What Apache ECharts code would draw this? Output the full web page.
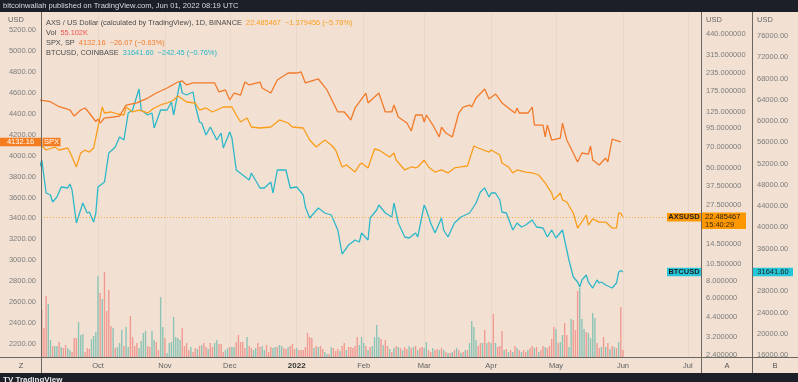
<!DOCTYPE html>
<html><head><meta charset="utf-8">
<script src="https://cdn.jsdelivr.net/npm/echarts@6/dist/echarts.min.js"></script>
<style>html,body{margin:0;padding:0;background:#1c1f28;}#c{width:798px;height:382px;}</style>
</head><body><div id="c"></div>
<script>
// ---------- DATA ----------
const spxDates = ['2021-09-04','2021-09-09','2021-09-13','2021-09-18','2021-09-20','2021-09-23','2021-09-25','2021-09-27','2021-09-30',
'2021-10-01','2021-10-02','2021-10-04','2021-10-08','2021-10-11','2021-10-14','2021-10-19','2021-10-24','2021-10-28',
'2021-11-02','2021-11-07','2021-11-09','2021-11-11','2021-11-14','2021-11-20','2021-11-24','2021-11-26','2021-11-29',
'2021-12-01','2021-12-03','2021-12-06','2021-12-08','2021-12-10','2021-12-15','2021-12-16','2021-12-20','2021-12-23','2021-12-28',
'2022-01-01','2022-01-03','2022-01-05','2022-01-11','2022-01-14','2022-01-15','2022-01-20','2022-01-23','2022-01-25','2022-01-26','2022-01-28',
'2022-02-02','2022-02-03','2022-02-08','2022-02-11','2022-02-14','2022-02-15','2022-02-17','2022-02-21','2022-02-23','2022-02-25','2022-02-28',
'2022-03-01','2022-03-02','2022-03-05','2022-03-08','2022-03-09','2022-03-11','2022-03-14','2022-03-17','2022-03-19','2022-03-22','2022-03-23','2022-03-25','2022-03-29','2022-03-31',
'2022-04-03','2022-04-06','2022-04-09','2022-04-12','2022-04-13','2022-04-14','2022-04-18','2022-04-20','2022-04-21','2022-04-25','2022-04-26','2022-04-27','2022-04-29',
'2022-05-03','2022-05-04','2022-05-06','2022-05-09','2022-05-11','2022-05-13','2022-05-16','2022-05-17','2022-05-18','2022-05-21','2022-05-24','2022-05-25','2022-05-27','2022-05-31'];
const spxValues = [4531,4515,4467,4436,4378,4436,4455,4407,4324,
4350,4311,4359,4369,4378,4483,4503,4550,4598,
4646,4703,4713,4675,4694,4694,4694,4608,4627,
4531,4598,4579,4703,4675,4703,4646,4598,4722,4789,
4789,4799,4694,4732,4655,4627,4417,4417,4369,4340,4455,
4598,4503,4598,4417,4417,4483,4369,4311,4235,4388,4388,
4321,4388,4292,4178,4273,4216,4178,4407,4464,4483,4464,4550,4636,4541,
4589,4503,4455,4407,4455,4407,4407,4464,4292,4292,4178,4292,4149,
4168,4311,4149,4025,3939,4025,4015,4092,3958,3910,3977,3939,4158,4132.16];

const axsDates = ['2021-09-05','2021-09-07','2021-09-11','2021-09-13','2021-09-17','2021-09-18','2021-09-19','2021-09-21','2021-09-23','2021-09-25','2021-09-27','2021-09-29',
'2021-10-01','2021-10-03','2021-10-04','2021-10-07','2021-10-10','2021-10-13','2021-10-14','2021-10-17','2021-10-20','2021-10-24','2021-10-27','2021-10-30',
'2021-11-02','2021-11-05','2021-11-07','2021-11-11','2021-11-15','2021-11-17','2021-11-20','2021-11-23','2021-11-28',
'2021-12-02','2021-12-04','2021-12-06','2021-12-09','2021-12-11','2021-12-15','2021-12-20','2021-12-24','2021-12-28','2021-12-30',
'2022-01-04','2022-01-07','2022-01-10','2022-01-14','2022-01-17','2022-01-19','2022-01-22','2022-01-24','2022-01-28','2022-01-30','2022-01-31',
'2022-02-03','2022-02-06','2022-02-08','2022-02-13','2022-02-15','2022-02-16','2022-02-20','2022-02-23','2022-02-25','2022-02-26',
'2022-03-01','2022-03-03','2022-03-06','2022-03-09','2022-03-12','2022-03-15','2022-03-18','2022-03-21','2022-03-24','2022-03-26','2022-03-31',
'2022-04-01','2022-04-05','2022-04-06','2022-04-09','2022-04-11','2022-04-13','2022-04-17','2022-04-20','2022-04-23','2022-04-26','2022-04-29','2022-04-30',
'2022-05-03','2022-05-04','2022-05-06','2022-05-09','2022-05-11','2022-05-15','2022-05-16','2022-05-18','2022-05-21','2022-05-24','2022-05-27','2022-05-29','2022-05-30','2022-05-31',
'2022-06-01'];
const axsValues = [71.3,66.8,70.1,66.8,69.0,64.6,59.6,50.7,63.6,66.8,64.6,69.0,
97.1,134.4,121.9,123.9,119.9,118.0,134.4,123.9,127.9,121.9,132.2,138.8,
143.4,150.6,160.6,145.7,143.4,127.9,132.2,123.9,134.4,
134.4,118.0,105.3,112.4,97.1,95.5,97.1,108.8,103.6,97.1,
95.5,78.6,70.1,78.6,72.5,66.8,50.7,52.4,46.7,52.4,54.1,
49.9,67.9,66.8,59.6,63.6,56.8,48.3,50.7,49.9,50.7,
56.8,50.7,46.7,48.3,46.0,49.9,50.7,51.5,71.3,69.0,64.6,
66.8,61.6,54.1,50.7,46.0,48.3,46.7,46.0,44.5,39.1,33.2,29.7,
33.2,29.7,28.7,24.0,18.8,23.2,19.7,21.8,20.7,20.7,18.8,18.8,24.0,23.87,
22.485467];

const btcDates = ['2021-09-04','2021-09-05','2021-09-07','2021-09-09','2021-09-10','2021-09-12','2021-09-14','2021-09-17','2021-09-18','2021-09-19','2021-09-21','2021-09-24','2021-09-26','2021-09-27','2021-09-29','2021-09-30',
'2021-10-01','2021-10-04','2021-10-06','2021-10-09','2021-10-11','2021-10-13','2021-10-15','2021-10-17','2021-10-18','2021-10-20','2021-10-21','2021-10-24','2021-10-26','2021-10-27','2021-10-30',
'2021-11-02','2021-11-04','2021-11-05','2021-11-08','2021-11-09','2021-11-11','2021-11-14','2021-11-15','2021-11-17','2021-11-18','2021-11-20','2021-11-22','2021-11-25','2021-11-27','2021-11-28',
'2021-12-01','2021-12-02','2021-12-04','2021-12-07','2021-12-10','2021-12-11','2021-12-15','2021-12-17','2021-12-20','2021-12-21','2021-12-23','2021-12-27','2021-12-29',
'2022-01-01','2022-01-04','2022-01-05','2022-01-07','2022-01-11','2022-01-14','2022-01-17','2022-01-20','2022-01-22','2022-01-25','2022-01-28','2022-01-30','2022-01-31',
'2022-02-03','2022-02-04','2022-02-07','2022-02-08','2022-02-11','2022-02-14','2022-02-15','2022-02-17','2022-02-20','2022-02-22','2022-02-25','2022-02-26',
'2022-03-01','2022-03-02','2022-03-04','2022-03-06','2022-03-09','2022-03-10','2022-03-12','2022-03-15','2022-03-18','2022-03-22','2022-03-25','2022-03-27','2022-03-29','2022-03-31',
'2022-04-01','2022-04-03','2022-04-05','2022-04-06','2022-04-08','2022-04-11','2022-04-13','2022-04-15','2022-04-17','2022-04-20','2022-04-22','2022-04-25','2022-04-27','2022-04-29',
'2022-05-01','2022-05-04','2022-05-06','2022-05-07','2022-05-09','2022-05-11','2022-05-12','2022-05-13','2022-05-15','2022-05-16','2022-05-18','2022-05-20','2022-05-21','2022-05-22','2022-05-24','2022-05-27','2022-05-29','2022-05-30','2022-05-31',
'2022-06-01'];
const btcValues = [51360,52677,46470,46094,44777,45718,47598,47410,48163,47034,40827,44589,42708,42896,41015,42708,
47598,48539,53993,55122,57003,56439,61517,62081,63398,66031,62081,61141,61517,58696,62081,
62081,63586,61141,67348,65279,64903,65467,63022,59824,59636,57379,58884,56439,57755,54934,
57943,56815,50796,49855,48915,50232,47410,47410,48539,46470,50796,50796,47410,
47598,46094,43837,41768,43649,42708,42332,39511,34996,36689,37629,37253,38946,
37629,41768,43272,44213,42708,41956,44589,40827,38194,38006,38946,38194,
44213,43272,40827,38946,41768,39511,38194,40827,41956,42708,44589,46658,47410,45718,
46470,46470,45153,42896,42708,39511,40827,40075,40451,41391,40075,39887,38194,39511,
38006,39511,35749,33867,30670,29729,28789,30106,31046,29729,28601,30106,29542,29729,29166,28601,29542,31611,31884,
31641.60];

// AXS daily volume (thousands), one bar per day ending on volEnd
const volEnd = '2022-06-01';
const volK = [376,232,488,424,136,88,88,88,120,80,72,96,72,56,
40,152,152,280,176,184,40,72,
64,144,168,200,648,512,464,680,
368,536,248,232,72,80,112,216,88,240,
80,328,160,88,112,72,128,192,208,88,
80,208,136,120,56,480,240,152,32,112,
120,320,160,152,136,232,88,112,56,80,
40,72,64,88,96,112,80,64,112,80,
112,136,104,104,40,56,72,80,80,80,
120,176,120,120,72,160,88,72,56,72,
112,80,88,56,96,40,80,72,80,80,
96,88,72,64,80,88,104,64,72,56,56,
56,80,192,160,152,72,88,80,
88,64,40,24,24,80,72,48,64,48,
88,112,56,80,80,72,88,160,96,160,
112,88,56,80,88,160,256,160,144,96,
136,88,64,40,72,88,80,72,56,80,
64,88,72,80,88,56,72,80,72,120,
56,40,72,56,64,56,72,56,40,
32,32,40,56,72,56,32,40,56,56,
112,288,240,136,88,112,112,216,112,120,
112,344,112,80,88,208,56,64,40,56,
40,88,72,56,40,56,40,56,72,88,
72,80,40,56,88,80,72,88,144,240,
224,112,120,176,272,176,80,304,296,216,
528,552,304,224,200,192,152,352,312,112,
72,80,160,80,112,64,88,80,72,120,
400,55.102];
// u = up (green) day, d = down (red) day
const volDir = ['ddduuduududduu','ddduuudd','duuuudud','ddduduuudu','udddduuuud','duudduuduu','uuuuuddddu','ddududdudd','uuddduuduu','dddddudduu','dduuddduud','uuddudddudd','dddddudu','dduududddu','dduddddduu','ududuuuudu','ddudududud','dudududduu','dduddudud','ududududud','uuuuddudud','ududddudud','udududdudd','ududdudddd','uduudduudd','duuuduuuud','dududududu','dd'].join('');

// axis ticks
const spxTicks = [2200,2400,2600,2800,3000,3200,3400,3600,3800,4000,4200,4400,4600,4800,5000,5200];
const axsTicks = [2.4,3.2,4.4,6,8,10.5,14.5,27.5,37.5,50,70,95,125,175,235,315,440];
const btcTicks = [16000,20000,24000,28000,36000,40000,44000,48000,52000,56000,60000,64000,68000,72000,76000];
const monthTicks = ['2021-10-01','2021-11-01','2021-12-01','2022-01-01','2022-02-01','2022-03-01','2022-04-01','2022-05-01','2022-06-01','2022-07-01'];
const monthNames = ['Jan','Feb','Mar','Apr','May','Jun','Jul','Aug','Sep','Oct','Nov','Dec'];

// ---------- BUILD ----------
function ts(s){const p=s.split('-');return Date.UTC(+p[0],+p[1]-1,+p[2]);}
const DAY = 86400000;
const C_SPX='#f27a2a', C_AXS='#fa9d1c', C_BTC='#2db8ca', UP='#8cc4b6', DN='#f09a92';
const FONT='"Liberation Sans", Arial, sans-serif';
const endT = ts(volEnd);
const volData = volK.map((v,i)=>{
  const dir = volDir[i] || 'd';
  return {value:[endT-(volK.length-1-i)*DAY, v], itemStyle:{color: dir==='u'?UP:DN}};
});
const spxData = spxDates.map((d,i)=>[ts(d), spxValues[i]]);
const axsData = axsDates.map((d,i)=>[ts(d), axsValues[i]]);
const btcData = btcDates.map((d,i)=>[ts(d), btcValues[i]]);
const axsMin=2.312, axsMax=629;
const lbl = {color:'#7d7d7d', fontSize:7.5, fontFamily:FONT};
const mt = monthTicks.map(ts);

const option = {
  animation:false,
  backgroundColor:'#f2e1d3',
  grid:{left:41,right:96,top:12,bottom:25,containLabel:false,outerBoundsMode:'none'},
  xAxis:{type:'value', min:Date.UTC(2021,8,4,15), max:Date.UTC(2022,6,7,14), scale:true,
    axisLine:{show:false}, axisTick:{show:false, customValues:mt},
    splitLine:{show:true, lineStyle:{color:'rgba(120,100,90,0.06)', width:1}},
    axisLabel:{customValues:mt, margin:5, color:'#606060', fontSize:7.5, fontFamily:FONT,
      formatter:function(v){const d=new Date(v); if(d.getUTCMonth()===0) return '{y|'+d.getUTCFullYear()+'}'; return monthNames[d.getUTCMonth()];},
      rich:{y:{fontWeight:'bold', color:'#333', fontSize:8, fontFamily:FONT}}}},
  yAxis:[
    {type:'value', position:'left', min:2076, max:5372, axisLine:{show:false}, axisTick:{show:false}, splitLine:{show:false},
      axisLabel:Object.assign({customValues:spxTicks, margin:5, formatter:v=>v.toFixed(2)}, lbl)},
    {type:'log', logBase:10, min:axsMin, max:axsMax, show:false},
    {type:'value', position:'right', offset:0, min:Math.log10(axsMin), max:Math.log10(axsMax), axisLine:{show:false}, axisTick:{show:false}, splitLine:{show:false},
      axisLabel:Object.assign({customValues:axsTicks.map(v=>Math.log10(v)), margin:4, formatter:v=>Math.pow(10,v).toFixed(6)}, lbl)},
    {type:'value', position:'right', offset:50, min:15624, max:80514, axisLine:{show:false}, axisTick:{show:false}, splitLine:{show:false},
      axisLabel:Object.assign({customValues:btcTicks, margin:5, formatter:v=>v.toFixed(2)}, lbl)},
    {type:'value', min:0, max:2760, show:false}
  ],
  series:[
    {type:'bar', name:'Vol', yAxisIndex:4, data:volData, barWidth:1.4, z:1},
    {type:'line', name:'BTCUSD', yAxisIndex:3, data:btcData, showSymbol:false, symbol:'none', lineStyle:{color:C_BTC,width:1.3}, itemStyle:{color:C_BTC}, z:3},
    {type:'line', name:'AXSUSD', yAxisIndex:1, data:axsData, showSymbol:false, symbol:'none', lineStyle:{color:C_AXS,width:1.3}, itemStyle:{color:C_AXS}, z:4,
      markLine:{silent:true, symbol:'none', label:{show:false}, lineStyle:{color:C_AXS, type:[1,2], width:1, opacity:0.8}, data:[{yAxis:axsValues[axsValues.length-1]}]}},
    {type:'line', name:'SPX', yAxisIndex:0, data:spxData, showSymbol:false, symbol:'none', lineStyle:{color:C_SPX,width:1.3}, itemStyle:{color:C_SPX}, z:5}
  ]
};
const chart = echarts.init(document.getElementById('c'));
chart.setOption(option);

const ySpx = chart.convertToPixel({yAxisIndex:0}, spxValues[spxValues.length-1]);
const yAxs = chart.convertToPixel({yAxisIndex:1}, axsValues[axsValues.length-1]);
const yBtc = chart.convertToPixel({yAxisIndex:3}, btcValues[btcValues.length-1]);

function txt(x,y,t,o){o=o||{};return {type:'text', x:x, y:y, z:o.z||50, silent:true,
  style:{text:t, fill:o.fill||'#555', fontSize:o.size||7.5, fontFamily:FONT, fontWeight:o.weight||'normal',
    align:o.align||'left', verticalAlign:'middle', textAlign:o.align||'left', textVerticalAlign:'middle', rich:o.rich}};}
function rect(x,y,w,h,fill,z){return {type:'rect', z:z||40, silent:true, shape:{x:x,y:y,width:w,height:h}, style:{fill:fill}};}
function vline(x,y1,y2){return {type:'line', z:45, silent:true, shape:{x1:x,y1:y1,x2:x,y2:y2}, style:{stroke:'#6a6662', lineWidth:1}};}
const LF = 7.4;
function rs(c){return {fill:c,fontSize:LF,fontFamily:FONT};}

const g = [
  rect(0,0,798,12,'#1c1f28',60),
  txt(3,6,'bitcoinwallah published on TradingView.com, Jun 01, 2022 08:19 UTC',{fill:'#d6d8de',size:7.6,z:61}),
  rect(0,373,798,9,'#1c1f28',60),
  txt(3,380,'TV TradingView',{fill:'#e8e8ea',size:8,weight:'bold',z:61}),
  {type:'line', z:45, silent:true, shape:{x1:0,y1:357.5,x2:798,y2:357.5}, style:{stroke:'#6a6662', lineWidth:1}},
  vline(41.5,12,373), vline(701.5,12,373), vline(752.5,12,373),
  txt(8,20,'USD',{fill:'#666'}), txt(706,20,'USD',{fill:'#666'}), txt(757,20,'USD',{fill:'#666'}),
  txt(21,365.5,'Z',{fill:'#555',align:'center'}), txt(727,365.5,'A',{fill:'#555',align:'center'}), txt(775,365.5,'B',{fill:'#555',align:'center'}),
  txt(46,22.5,'{g|AXS / US Dollar (calculated by TradingView), 1D, BINANCE}  {o|22.485467  −1.379456 (−5.78%)}',{size:LF,rich:{g:rs('#4a4a4a'),o:rs(C_AXS)}}),
  txt(46,32.5,'{g|Vol}  {r|55.102K}',{size:LF,rich:{g:rs('#4a4a4a'),r:rs('#ef5350')}}),
  txt(46,42.5,'{g|SPX, SP}  {o|4132.16  −26.07 (−0.63%)}',{size:LF,rich:{g:rs('#4a4a4a'),o:rs(C_SPX)}}),
  txt(46,52.5,'{g|BTCUSD, COINBASE}  {o|31641.60  −242.45 (−0.76%)}',{size:LF,rich:{g:rs('#4a4a4a'),o:rs('#26b5c8')}}),
  rect(0,ySpx-4,41,8.5,'#f57c1f'), txt(20.5,ySpx+0.3,'4132.16',{fill:'#fff',align:'center',z:51}),
  rect(42.5,ySpx-4,18,8.5,'#f57c1f'), txt(51.5,ySpx+0.3,'SPX',{fill:'#fff',align:'center',z:51}),
  rect(667,yAxs-4,34,8.5,'#ff9800'), txt(684,yAxs+0.3,'AXSUSD',{fill:'#1e1e1e',align:'center',weight:'bold',z:51}),
  rect(702,yAxs-4.5,44,16.5,'#ff9800'), txt(705,yAxs,'22.485467',{fill:'#1e1e1e',z:51}), txt(705,yAxs+8,'15:40:29',{fill:'#3b2a10',z:51}),
  rect(667,yBtc-4,34,8.5,'#26c6da'), txt(684,yBtc+0.3,'BTCUSD',{fill:'#1e1e1e',align:'center',weight:'bold',z:51}),
  rect(753,yBtc-4,40,8.5,'#26c6da'), txt(773,yBtc+0.3,'31641.60',{fill:'#1e1e1e',align:'center',z:51})
];
chart.setOption({graphic:g});
</script></body></html>
